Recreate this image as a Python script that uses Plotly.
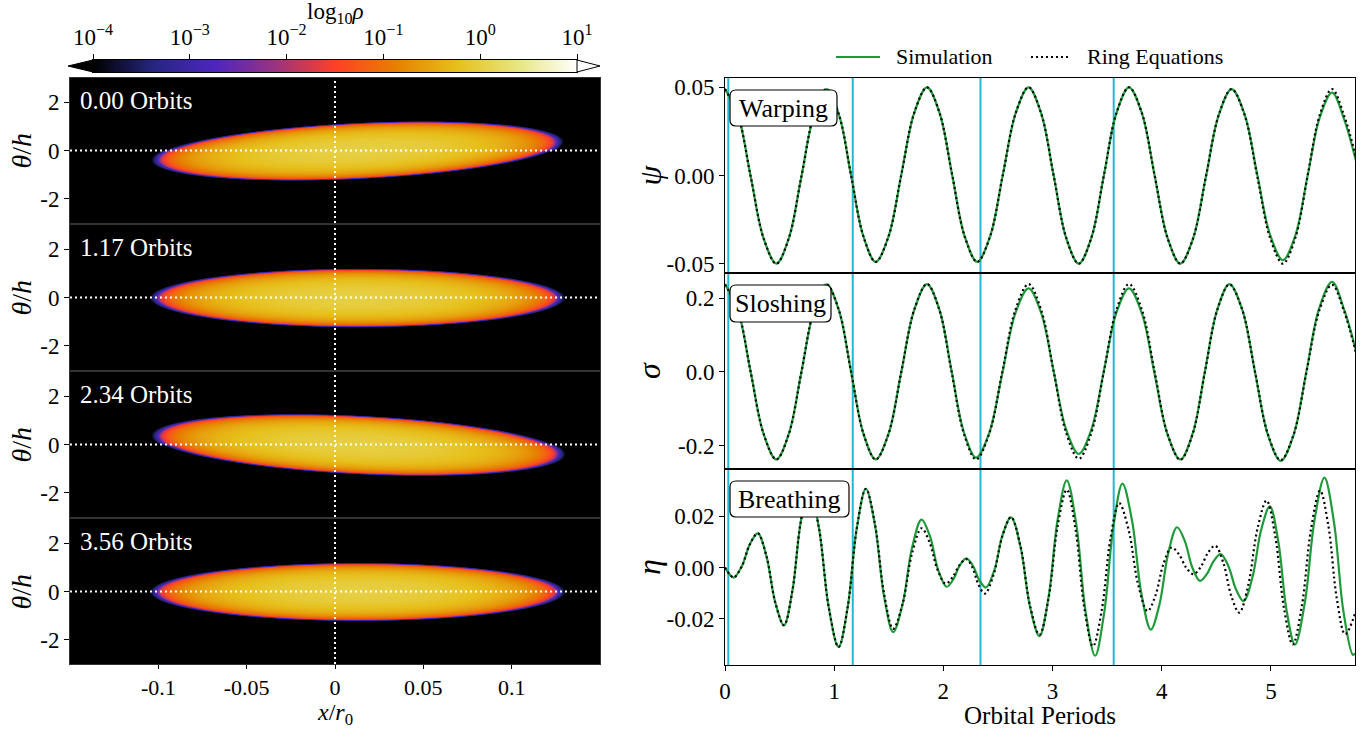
import numpy as np
import plotly.graph_objects as go

W, H = 1369, 730
FONT = "Liberation Serif"

# ---------------- snapshot (left) data ----------------
snapshot_labels = ["0.00 Orbits", "1.17 Orbits", "2.34 Orbits", "3.56 Orbits"]
snapshot_times = [0.03, 1.17, 2.34, 3.56]

# disk cross-section parameters for each snapshot
disk_x_inner = [-0.100, -0.101, -0.100, -0.101]
disk_x_outer = [0.125, 0.126, 0.126, 0.126]
disk_tilt = [3.40, 0.0, -3.45, 0.0]
disk_half_height = [1.14, 1.19, 1.19, 1.18]
disk_log_peak = [0.0, 0.0, 0.0, 0.0]

x_ticks = [-0.1, -0.05, 0, 0.05, 0.1]
x_ticktext = ["-0.1", "-0.05", "0", "0.05", "0.1"]
theta_ticks = [-2, 0, 2]
theta_ticktext = ["-2", "0", "2"]
cbar_ticks = [-4, -3, -2, -1, 0, 1]
cbar_ticktext = ["10<sup>\u22124</sup>", "10<sup>\u22123</sup>", "10<sup>\u22122</sup>",
                 "10<sup>\u22121</sup>", "10<sup>0</sup>", "10<sup>1</sup>"]

# ---------------- time series (right) data ----------------
psi_t = [0.00, 0.118, 0.235, 0.353, 0.47, 0.585, 0.70, 0.815, 0.93, 1.043, 1.155, 1.268,
         1.38, 1.498, 1.615, 1.733, 1.85, 1.965, 2.08, 2.195, 2.31, 2.428, 2.545, 2.663,
         2.78, 2.895, 3.01, 3.125, 3.24, 3.355, 3.47, 3.585, 3.70, 3.818, 3.935, 4.053,
         4.17, 4.288, 4.405, 4.523, 4.64, 4.758, 4.875, 4.993, 5.11, 5.223, 5.335, 5.448,
         5.56, 5.67, 5.78]
psi_sim = [0.049, 0.0345, -0.0005, -0.0355, -0.050, -0.0355, -0.0005, 0.0345, 0.049,
           0.0346, 0.0, -0.0346, -0.049, -0.0345, 0.0005, 0.0355, 0.050, 0.0355, 0.0005,
           -0.0345, -0.049, -0.0345, 0.0005, 0.0355, 0.050, 0.0354, 0.0, -0.0354, -0.050,
           -0.0354, 0.0, 0.0354, 0.050, 0.0354, 0.0, -0.0354, -0.050, -0.0355, -0.0005,
           0.0345, 0.049, 0.0348, 0.0005, -0.0338, -0.048, -0.0341, -0.0005, 0.0331, 0.047,
           0.032, 0.008]
psi_ring = [0.049, 0.0345, -0.0005, -0.0355, -0.050, -0.0355, -0.0005, 0.0345, 0.049,
            0.0346, 0.0, -0.0346, -0.049, -0.0345, 0.0005, 0.0355, 0.050, 0.0355, 0.0005,
            -0.0345, -0.049, -0.0345, 0.0005, 0.0355, 0.050, 0.0354, 0.0, -0.0354, -0.050,
            -0.0354, 0.0, 0.0354, 0.050, 0.0354, 0.0, -0.0354, -0.050, -0.0355, -0.0005,
            0.0345, 0.049, 0.0345, -0.0005, -0.0355, -0.050, -0.0355, -0.0005, 0.0345, 0.049,
            0.034, 0.010]

sig_t = [0.00, 0.118, 0.235, 0.353, 0.47, 0.585, 0.70, 0.815, 0.93, 1.043, 1.155, 1.268,
         1.38, 1.498, 1.615, 1.733, 1.85, 1.963, 2.075, 2.188, 2.30, 2.42, 2.54, 2.66,
         2.78, 2.895, 3.01, 3.125, 3.24, 3.355, 3.47, 3.585, 3.70, 3.818, 3.935, 4.053,
         4.17, 4.283, 4.395, 4.508, 4.62, 4.738, 4.855, 4.973, 5.09, 5.208, 5.325, 5.443,
         5.56, 5.67, 5.78]
sig_sim = [0.238, 0.168, 0.0, -0.168, -0.238, -0.168, 0.0, 0.168, 0.238, 0.168, 0.0, -0.168,
           -0.238, -0.168, 0.0005, 0.169, 0.239, 0.170, 0.003, -0.164, -0.233, -0.166, -0.003,
           0.160, 0.227, 0.161, 0.002, -0.157, -0.223, -0.157, 0.002, 0.161, 0.227, 0.159,
           -0.0055, -0.170, -0.238, -0.168, 0.0005, 0.169, 0.239, 0.169, -0.0015, -0.172,
           -0.242, -0.171, 0.0015, 0.174, 0.245, 0.17, 0.056]
sig_ring = [0.238, 0.168, 0.0, -0.168, -0.238, -0.168, 0.0, 0.168, 0.238, 0.168, 0.0, -0.168,
            -0.238, -0.168, 0.0005, 0.169, 0.239, 0.169, 0.0005, -0.168, -0.238, -0.168,
            0.0005, 0.169, 0.239, 0.169, 0.0015, -0.166, -0.236, -0.166, 0.0015, 0.169, 0.239,
            0.169, 0.0, -0.169, -0.239, -0.169, -0.0005, 0.168, 0.238, 0.168, -0.001, -0.170,
            -0.240, -0.170, -0.0015, 0.167, 0.237, 0.165, 0.05]

eta_sim_t = [0.00, 0.04, 0.08, 0.153, 0.227, 0.30, 0.38, 0.46, 0.54, 0.617, 0.693, 0.77,
             0.86, 0.95, 1.04, 1.123, 1.207, 1.29, 1.373, 1.457, 1.54, 1.627, 1.713, 1.80,
             1.877, 1.953, 2.03, 2.09, 2.15, 2.21, 2.27, 2.33, 2.39, 2.467, 2.543, 2.62,
             2.707, 2.793, 2.88, 2.963, 3.047, 3.13, 3.217, 3.303, 3.39, 3.473, 3.557, 3.64,
             3.727, 3.813, 3.90, 3.98, 4.06, 4.14, 4.21, 4.28, 4.35, 4.413, 4.477, 4.54,
             4.61, 4.68, 4.75, 4.83, 4.91, 4.99, 5.067, 5.143, 5.22, 5.31, 5.40, 5.49,
             5.577, 5.663, 5.75, 5.77]
eta_sim = [0.0, -0.0025, -0.0039, 0.0004, 0.009, 0.0133, 0.00435, -0.01355, -0.0225, -0.0091,
           0.0176, 0.031, 0.0155, -0.0155, -0.031, -0.0156, 0.0153, 0.0307, 0.0167, -0.0112,
           -0.0252, -0.0142, 0.0077, 0.0187, 0.0122, -0.001, -0.0075, -0.0047, 0.0008, 0.0036,
           0.00075, -0.005, -0.0078, -0.001, 0.0128, 0.0196, 0.008, -0.0152, -0.0268, -0.0116,
           0.0188, 0.034, 0.0169, -0.0173, -0.0344, -0.0176, 0.0159, 0.0327, 0.0185, -0.01,
           -0.0242, -0.0142, 0.0057, 0.0157, 0.0105, 0.0, -0.0052, -0.0026, 0.0026, 0.0052,
           0.0006, -0.0085, -0.0131, -0.0039, 0.0146, 0.0238, 0.0103, -0.0166, -0.0301, -0.0138,
           0.0187, 0.035, 0.0178, -0.0168, -0.034, -0.0335]

eta_ring_t = [0.00, 0.04, 0.08, 0.153, 0.227, 0.30, 0.38, 0.46, 0.54, 0.617, 0.693, 0.77,
              0.86, 0.95, 1.04, 1.123, 1.207, 1.29, 1.373, 1.457, 1.54, 1.627, 1.713, 1.80,
              1.873, 1.947, 2.02, 2.083, 2.147, 2.21, 2.267, 2.323, 2.38, 2.46, 2.54, 2.62,
              2.707, 2.793, 2.88, 2.963, 3.047, 3.13, 3.21, 3.29, 3.37, 3.45, 3.53, 3.61,
              3.697, 3.783, 3.87, 3.943, 4.017, 4.09, 4.157, 4.223, 4.29, 4.357, 4.423, 4.49,
              4.563, 4.637, 4.71, 4.793, 4.877, 4.96, 5.04, 5.12, 5.20, 5.283, 5.367, 5.45,
              5.527, 5.603, 5.68, 5.77]
eta_ring = [0.0, -0.0025, -0.0039, 0.0004, 0.009, 0.0133, 0.00435, -0.01355, -0.0225, -0.0091,
            0.0176, 0.031, 0.0155, -0.0155, -0.031, -0.0156, 0.0153, 0.0307, 0.01705, -0.01025,
            -0.0239, -0.0141, 0.0055, 0.0153, 0.0099, -0.0009, -0.0063, -0.0039, 0.0009, 0.0033,
            -0.0001, -0.0068, -0.0102, -0.0028, 0.0122, 0.0196, 0.0082, -0.0148, -0.0262, -0.0121,
            0.0162, 0.0303, 0.0151, -0.0155, -0.0307, -0.0168, 0.0112, 0.0251, 0.0146, -0.0065,
            -0.017, -0.0108, 0.0016, 0.0078, 0.0052, 0.0, -0.0026, 0.0002, 0.0057, 0.0085,
            0.002, -0.0111, -0.0176, -0.0067, 0.0152, 0.0261, 0.0121, -0.016, -0.030, -0.015,
            0.015, 0.030, 0.016, -0.012, -0.026, -0.018]

panel_names = ["Warping", "Sloshing", "Breathing"]
panel_symbols = ["\u03c8", "\u03c3", "\u03b7"]
panel_ranges = [[-0.0553, 0.0553], [-0.264, 0.269], [-0.038, 0.0384]]
panel_ticks = [[-0.05, 0.0, 0.05], [-0.2, 0.0, 0.2], [-0.02, 0.0, 0.02]]
panel_ticktext = [["-0.05", "0.00", "0.05"], ["-0.2", "0.0", "0.2"], ["-0.02", "0.00", "0.02"]]
t_ticks = [0, 1, 2, 3, 4, 5]
legend_names = ["Simulation", "Ring Equations"]

# ---------------- styling ----------------
SIM_COLOR = "#1f9a3a"
MARK_COLOR = "#22b8d4"
CMRMAP = [
    [0.000, "rgb(0,0,0)"], [0.125, "rgb(38,38,128)"], [0.250, "rgb(77,38,191)"],
    [0.375, "rgb(153,51,128)"], [0.500, "rgb(255,64,38)"], [0.625, "rgb(230,128,0)"],
    [0.750, "rgb(230,191,26)"], [0.875, "rgb(230,230,128)"], [1.000, "rgb(255,255,255)"],
]
POLY_INDEX = 1.3
RIM_FLOOR = 10 ** -2.05
RIM_DECAY = 35.0
DOT = "2px,3px"


def fx(p):
    return p / W


def fy(p):
    return 1 - p / H


def ax(n):
    return "" if n == 1 else str(n)


def text(t, x, y, size, color="black", xanchor="center", angle=0):
    return dict(text=t, xref="paper", yref="paper", x=fx(x), y=fy(y), xanchor=xanchor,
                yanchor="middle", showarrow=False, textangle=angle, borderpad=0,
                font=dict(family=FONT, size=size, color=color))


AXIS_BASE = dict(showgrid=False, zeroline=False, automargin=False, showline=True,
                 mirror=True, linewidth=1, tickcolor="black", ticklen=5)

left_x = [fx(70), fx(600)]
left_rows = [(78, 223), (225, 370), (372, 517), (519, 664)]
right_x = [fx(725), fx(1355)]
right_rows = [(78, 273), (273, 469), (469, 665)]

fig = go.Figure()

# ---------------- density maps ----------------
x_grid = np.linspace(-0.15, 0.15, 531)
y_grid = np.linspace(-3.0, 3.0, 147)
XX, YY = np.meshgrid(x_grid, y_grid)


def log_density(k):
    xc = 0.5 * (disk_x_inner[k] + disk_x_outer[k])
    a = 0.5 * (disk_x_outer[k] - disk_x_inner[k])
    b = disk_half_height[k]
    yc = disk_tilt[k] * (XX - xc)
    r = np.sqrt(((XX - xc) / a) ** 2 + ((YY - yc) / b) ** 2)
    u = np.clip(1 - r ** 2, 0, None)
    inner = disk_log_peak[k] + POLY_INDEX * np.log10(u + RIM_FLOOR)
    edge = disk_log_peak[k] + POLY_INDEX * np.log10(RIM_FLOOR) - RIM_DECAY * (r - 1)
    z = np.where(r <= 1, inner, edge)
    return np.clip(z, -4.3, 1.0)


shapes = []
annotations = []
layout_axes = {}

for k in range(4):
    n = k + 1
    s = ax(n)
    top, bot = left_rows[k]
    fig.add_trace(go.Heatmap(
        x=x_grid, y=y_grid, z=log_density(k), coloraxis="coloraxis",
        xaxis=f"x{s}", yaxis=f"y{s}", zsmooth="best", hoverinfo="skip",
    ))
    last = k == 3
    layout_axes[f"xaxis{s}"] = dict(
        AXIS_BASE, domain=left_x, range=[-0.15, 0.15], anchor=f"y{s}",
        tickvals=x_ticks, ticktext=x_ticktext, showticklabels=last,
        ticks="outside" if last else "", linecolor="#333", ticklen=4,
        tickfont=dict(family=FONT, size=22, color="black"),
    )
    layout_axes[f"yaxis{s}"] = dict(
        AXIS_BASE, domain=[fy(bot), fy(top)], range=[-3, 3], anchor=f"x{s}",
        tickvals=theta_ticks, ticktext=theta_ticktext, ticks="outside", linecolor="#333",
    )
    # dotted white reference lines
    shapes.append(dict(type="line", xref=f"x{s}", yref=f"y{s} domain", x0=0, x1=0, y0=0, y1=1,
                       line=dict(color="white", width=2, dash=DOT), layer="above"))
    shapes.append(dict(type="line", xref=f"x{s} domain", yref=f"y{s}", x0=0, x1=1, y0=0, y1=0,
                       line=dict(color="white", width=2, dash=DOT), layer="above"))
    annotations.append(text(snapshot_labels[k], 79, top + 22, 25, "white", xanchor="left"))
    annotations.append(text("<i>\u03b8</i>/<i>h</i>", 21, (top + bot) / 2, 28, angle=-90))

annotations.append(text("<i>x</i>/<i>r</i><sub>0</sub>", 335, 714, 24))
annotations.append(text("log<sub>10</sub><i>\u03c1</i>", 335, 13, 23))

# ---------------- colour bar (drawn on its own axis) ----------------
CB_L, CB_R, CB_T, CB_B = 93, 577, 60, 72
cb_vals = np.linspace(-4, 1, 501)
fig.add_trace(go.Heatmap(
    x=cb_vals, y=[0, 1], z=[cb_vals, cb_vals], coloraxis="coloraxis",
    xaxis="x8", yaxis="y8", zsmooth="best", hoverinfo="skip",
))
layout_axes["xaxis8"] = dict(
    AXIS_BASE, domain=[fx(CB_L), fx(CB_R)], range=[-4, 1], anchor="y8", side="top",
    tickvals=cbar_ticks, ticktext=cbar_ticktext, ticks="outside", linecolor="black",
    tickfont=dict(family=FONT, size=23, color="black"),
)
layout_axes["yaxis8"] = dict(
    AXIS_BASE, domain=[fy(CB_B), fy(CB_T)], range=[0, 1], anchor="x8",
    showticklabels=False, ticks="", linecolor="black",
)
shapes.append(dict(type="path", xref="paper", yref="paper",
                   path=f"M {fx(CB_L)},{fy(CB_T)} L {fx(68)},{fy((CB_T + CB_B) / 2)} L {fx(CB_L)},{fy(CB_B)} Z",
                   fillcolor="black", line=dict(color="black", width=1)))
shapes.append(dict(type="path", xref="paper", yref="paper",
                   path=f"M {fx(CB_R)},{fy(CB_T)} L {fx(600)},{fy((CB_T + CB_B) / 2)} L {fx(CB_R)},{fy(CB_B)} Z",
                   fillcolor="white", line=dict(color="black", width=1)))

# ---------------- time series ----------------
series = [(psi_t, psi_sim, psi_t, psi_ring), (sig_t, sig_sim, sig_t, sig_ring),
          (eta_sim_t, eta_sim, eta_ring_t, eta_ring)]


def rounded_box(x0, y0, x1, y1, r):
    pts = [
        f"M {fx(x0 + r)},{fy(y0)}", f"L {fx(x1 - r)},{fy(y0)}",
        f"Q {fx(x1)},{fy(y0)} {fx(x1)},{fy(y0 + r)}", f"L {fx(x1)},{fy(y1 - r)}",
        f"Q {fx(x1)},{fy(y1)} {fx(x1 - r)},{fy(y1)}", f"L {fx(x0 + r)},{fy(y1)}",
        f"Q {fx(x0)},{fy(y1)} {fx(x0)},{fy(y1 - r)}", f"L {fx(x0)},{fy(y0 + r)}",
        f"Q {fx(x0)},{fy(y0)} {fx(x0 + r)},{fy(y0)}", "Z",
    ]
    return " ".join(pts)


label_boxes = [(730, 90, 837, 126), (730, 285, 831, 322), (730, 481, 849, 517)]

for j in range(3):
    n = j + 5
    s = ax(n)
    top, bot = right_rows[j]
    ts, sim, tr, ring = series[j]
    fig.add_trace(go.Scatter(
        x=ts, y=sim, mode="lines", name=legend_names[0], showlegend=False,
        line=dict(color=SIM_COLOR, width=2.2, shape="spline", smoothing=1.0),
        xaxis=f"x{s}", yaxis=f"y{s}", hoverinfo="skip",
    ))
    fig.add_trace(go.Scatter(
        x=tr, y=ring, mode="lines", name=legend_names[1], showlegend=False,
        line=dict(color="black", width=2.2, dash=DOT, shape="spline", smoothing=1.0),
        xaxis=f"x{s}", yaxis=f"y{s}", hoverinfo="skip",
    ))
    last = j == 2
    layout_axes[f"xaxis{s}"] = dict(
        AXIS_BASE, domain=right_x, range=[0, 5.77], anchor=f"y{s}",
        tickvals=t_ticks, showticklabels=last, ticks="outside" if last else "",
        linecolor="black",
    )
    layout_axes[f"yaxis{s}"] = dict(
        AXIS_BASE, domain=[fy(bot), fy(top)], range=panel_ranges[j], anchor=f"x{s}",
        tickvals=panel_ticks[j], ticktext=panel_ticktext[j], ticks="outside",
        linecolor="black",
    )
    for t in snapshot_times:
        shapes.append(dict(type="line", xref=f"x{s}", yref=f"y{s} domain", x0=t, x1=t,
                           y0=0, y1=1, line=dict(color=MARK_COLOR, width=2), layer="below"))
    bx0, by0, bx1, by1 = label_boxes[j]
    shapes.append(dict(type="path", xref="paper", yref="paper",
                       path=rounded_box(bx0, by0, bx1, by1, 6),
                       fillcolor="white", line=dict(color="black", width=1.2), layer="above"))
    annotations.append(text(panel_names[j], (bx0 + bx1) / 2, (by0 + by1) / 2, 26))
    annotations.append(text(f"<i>{panel_symbols[j]}</i>", 649, (top + bot) / 2, 32, angle=-90))

annotations.append(text("Orbital Periods", 1040, 715, 25))

# legend drawn as line samples plus labels
shapes.append(dict(type="line", xref="paper", yref="paper", x0=fx(836), x1=fx(880),
                   y0=fy(57), y1=fy(57), line=dict(color=SIM_COLOR, width=2.2)))
shapes.append(dict(type="line", xref="paper", yref="paper", x0=fx(1031), x1=fx(1068),
                   y0=fy(57), y1=fy(57), line=dict(color="black", width=2, dash=DOT)))
annotations.append(text(legend_names[0], 895, 57, 22, xanchor="left"))
annotations.append(text(legend_names[1], 1086, 57, 22, xanchor="left"))

fig.update_layout(
    width=W, height=H, margin=dict(l=0, r=0, t=0, b=0, autoexpand=False),
    paper_bgcolor="white", plot_bgcolor="white",
    font=dict(family=FONT, size=23, color="black"),
    coloraxis=dict(colorscale=CMRMAP, cmin=-4, cmax=1, showscale=False),
    showlegend=False,
    shapes=shapes, annotations=annotations,
    **layout_axes,
)

fig.write_html("out.html")
